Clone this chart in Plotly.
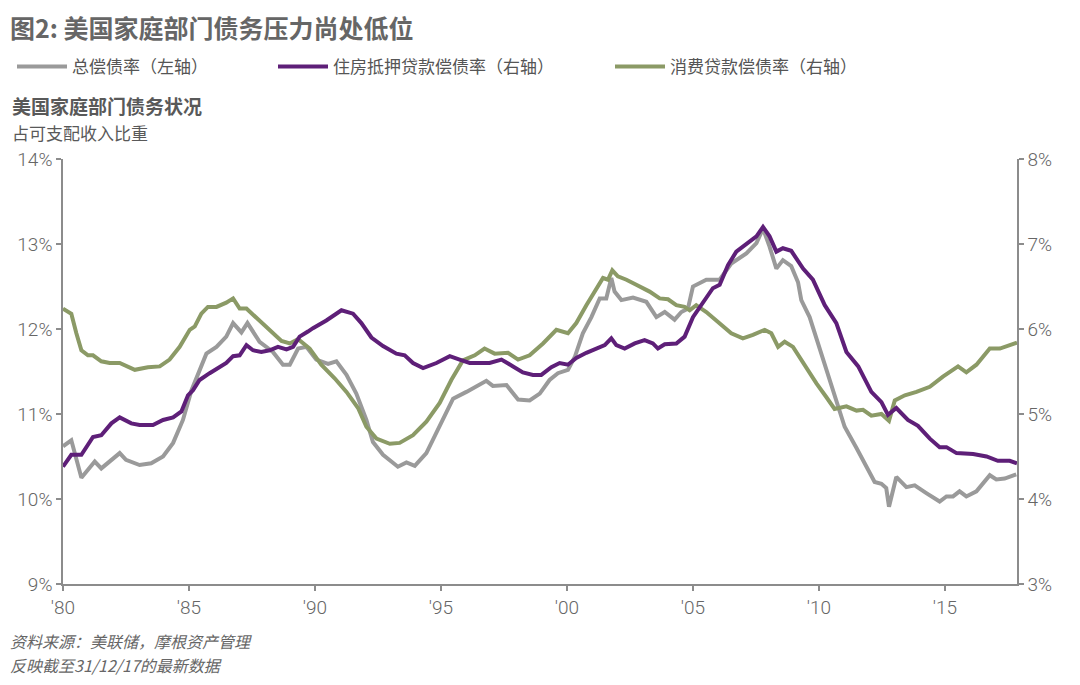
import plotly.graph_objects as go

# ---- data (percent of disposable income) ----
total_year = [1980.0, 1980.33, 1980.73, 1981.26, 1981.52, 1982.25, 1982.5, 1983.04, 1983.5, 1983.97,
              1984.37, 1984.76, 1985.1, 1985.42, 1985.69, 1986.09, 1986.48, 1986.75, 1987.08, 1987.32,
              1987.8, 1988.33, 1988.73, 1989.0, 1989.33, 1989.66, 1990.05, 1990.52, 1990.85, 1991.25,
              1991.64, 1992.04, 1992.3, 1992.7, 1993.29, 1993.63, 1993.96, 1994.42, 1994.95, 1995.48,
              1996.01, 1996.54, 1996.8, 1997.06, 1997.6, 1998.06, 1998.52, 1998.92, 1999.31, 1999.64,
              2000.04, 2000.31, 2000.63, 2000.97, 2001.3, 2001.56, 2001.76, 2001.89, 2002.16, 2002.62,
              2003.15, 2003.55, 2003.88, 2004.27, 2004.54, 2004.8, 2005.0, 2005.53, 2006.06, 2006.52,
              2007.12, 2007.52, 2007.78, 2008.04, 2008.31, 2008.57, 2008.9, 2009.17, 2009.3, 2009.63,
              2010.1, 2010.56, 2011.02, 2011.49, 2011.81, 2012.21, 2012.48, 2012.67, 2012.78, 2013.07,
              2013.47, 2013.8, 2014.26, 2014.79, 2015.06, 2015.32, 2015.58, 2015.85, 2016.25, 2016.78,
              2017.04, 2017.37, 2017.83]
total_dsr = [10.62, 10.69, 10.25, 10.44, 10.36, 10.54, 10.46, 10.40, 10.42, 10.50,
             10.66, 10.93, 11.28, 11.52, 11.71, 11.79, 11.91, 12.07, 11.96, 12.07,
             11.85, 11.73, 11.58, 11.58, 11.77, 11.79, 11.64, 11.59, 11.62, 11.46,
             11.24, 10.93, 10.67, 10.52, 10.38, 10.43, 10.39, 10.54, 10.85, 11.18,
             11.26, 11.34, 11.39, 11.33, 11.34, 11.17, 11.16, 11.24, 11.40, 11.48,
             11.52, 11.67, 11.95, 12.14, 12.36, 12.36, 12.60, 12.44, 12.34, 12.37,
             12.32, 12.14, 12.20, 12.11, 12.20, 12.24, 12.50, 12.58, 12.58, 12.77,
             12.89, 13.01, 13.18, 12.97, 12.71, 12.81, 12.74, 12.55, 12.34, 12.14,
             11.71, 11.28, 10.85, 10.60, 10.42, 10.20, 10.18, 10.13, 9.91, 10.26,
             10.14, 10.16, 10.07, 9.97, 10.03, 10.03, 10.09, 10.03, 10.09, 10.28,
             10.23, 10.24, 10.29]

mortgage_year = [1980.0, 1980.33, 1980.73, 1981.19, 1981.52, 1981.92, 1982.25, 1982.71, 1983.04, 1983.57,
                 1983.97, 1984.37, 1984.7, 1984.96, 1985.16, 1985.42, 1985.82, 1986.22, 1986.48, 1986.75,
                 1987.01, 1987.28, 1987.54, 1987.87, 1988.2, 1988.53, 1988.87, 1989.13, 1989.39, 1989.72,
                 1989.92, 1990.45, 1991.05, 1991.51, 1991.84, 1992.24, 1992.7, 1993.23, 1993.56, 1993.89,
                 1994.29, 1994.82, 1995.35, 1995.74, 1996.14, 1996.93, 1997.4, 1997.86, 1998.25, 1998.65,
                 1998.98, 1999.38, 1999.71, 2000.04, 2000.37, 2000.77, 2001.17, 2001.5, 2001.76, 2001.96,
                 2002.29, 2002.69, 2003.08, 2003.41, 2003.61, 2003.88, 2004.34, 2004.67, 2005.0, 2005.4,
                 2005.79, 2006.06, 2006.39, 2006.72, 2007.18, 2007.52, 2007.78, 2008.04, 2008.31, 2008.57,
                 2008.9, 2009.17, 2009.37, 2009.76, 2010.23, 2010.69, 2011.09, 2011.56, 2012.08, 2012.48,
                 2012.74, 2013.07, 2013.53, 2013.93, 2014.4, 2014.79, 2015.06, 2015.46, 2016.12, 2016.65,
                 2017.1, 2017.57, 2017.86]
mortgage_dsr = [4.38, 4.52, 4.52, 4.73, 4.75, 4.89, 4.96, 4.89, 4.87, 4.87,
                4.93, 4.96, 5.03, 5.22, 5.28, 5.40, 5.48, 5.55, 5.60, 5.68,
                5.69, 5.81, 5.75, 5.73, 5.75, 5.79, 5.76, 5.79, 5.91, 5.97,
                6.01, 6.10, 6.22, 6.18, 6.07, 5.90, 5.80, 5.71, 5.69, 5.60,
                5.54, 5.60, 5.68, 5.64, 5.60, 5.60, 5.64, 5.56, 5.49, 5.46,
                5.46, 5.55, 5.60, 5.58, 5.66, 5.72, 5.77, 5.81, 5.89, 5.81,
                5.77, 5.83, 5.87, 5.83, 5.77, 5.82, 5.83, 5.91, 6.14, 6.32,
                6.48, 6.52, 6.75, 6.91, 7.01, 7.09, 7.20, 7.09, 6.91, 6.95,
                6.92, 6.81, 6.71, 6.58, 6.28, 6.07, 5.73, 5.56, 5.26, 5.14,
                4.99, 5.07, 4.93, 4.86, 4.71, 4.61, 4.61, 4.54, 4.53, 4.50,
                4.45, 4.45, 4.42]

consumer_year = [1980.0, 1980.33, 1980.53, 1980.73, 1980.99, 1981.19, 1981.52, 1981.85, 1982.25, 1982.85,
                 1983.37, 1983.84, 1984.23, 1984.63, 1985.03, 1985.23, 1985.49, 1985.75, 1986.09, 1986.48,
                 1986.75, 1987.01, 1987.28, 1987.67, 1988.2, 1988.67, 1989.0, 1989.33, 1989.79, 1990.25,
                 1990.78, 1991.25, 1991.71, 1992.04, 1992.44, 1992.97, 1993.36, 1993.89, 1994.42, 1994.95,
                 1995.41, 1995.87, 1996.34, 1996.73, 1997.13, 1997.66, 1998.06, 1998.52, 1999.05, 1999.58,
                 2000.04, 2000.37, 2000.77, 2001.17, 2001.43, 2001.63, 2001.8, 2002.02, 2002.36, 2002.75,
                 2003.28, 2003.68, 2004.01, 2004.34, 2004.67, 2004.87, 2005.13, 2005.53, 2006.06, 2006.52,
                 2006.98, 2007.38, 2007.85, 2008.11, 2008.38, 2008.64, 2008.97, 2009.23, 2009.43, 2009.9,
                 2010.29, 2010.62, 2011.09, 2011.49, 2011.75, 2012.08, 2012.48, 2012.78, 2013.01, 2013.41,
                 2013.87, 2014.4, 2014.92, 2015.52, 2015.85, 2016.25, 2016.78, 2017.18, 2017.86]
consumer_dsr = [6.24, 6.18, 5.95, 5.75, 5.69, 5.69, 5.62, 5.60, 5.60, 5.52,
                5.55, 5.56, 5.64, 5.79, 5.99, 6.03, 6.18, 6.26, 6.26, 6.31,
                6.36, 6.24, 6.24, 6.13, 5.99, 5.86, 5.83, 5.88, 5.77, 5.58,
                5.42, 5.26, 5.07, 4.85, 4.71, 4.65, 4.66, 4.75, 4.91, 5.13,
                5.40, 5.63, 5.69, 5.77, 5.71, 5.72, 5.64, 5.69, 5.83, 5.99,
                5.95, 6.07, 6.28, 6.48, 6.60, 6.58, 6.69, 6.62, 6.58, 6.52,
                6.44, 6.36, 6.35, 6.28, 6.26, 6.22, 6.28, 6.20, 6.07, 5.95,
                5.89, 5.93, 5.99, 5.95, 5.79, 5.85, 5.79, 5.67, 5.56, 5.36,
                5.20, 5.06, 5.09, 5.04, 5.05, 4.98, 5.00, 4.92, 5.16, 5.22,
                5.26, 5.32, 5.44, 5.56, 5.49, 5.58, 5.77, 5.77, 5.84]

x_tickvals = [1980, 1985, 1990, 1995, 2000, 2005, 2010, 2015]
x_ticktext = ["'80", "'85", "'90", "'95", "'00", "'05", "'10", "'15"]
left_ticks = [9, 10, 11, 12, 13, 14]
left_ticktext = ["9%", "10%", "11%", "12%", "13%", "14%"]
right_ticks = [3, 4, 5, 6, 7, 8]
right_ticktext = ["3%", "4%", "5%", "6%", "7%", "8%"]

names = ["总偿债率（左轴）", "住房抵押贷款偿债率（右轴）", "消费贷款偿债率（右轴）"]
colors = ["#9a9a9a", "#5e1f78", "#8b9a66"]

FONT = "Roboto, 'Noto Sans CJK SC', sans-serif"
CJK = "'Noto Sans CJK SC', sans-serif"

fig = go.Figure()
fig.add_trace(go.Scatter(x=total_year, y=total_dsr, mode="lines", name=names[0],
                         line=dict(color=colors[0], width=4), yaxis="y", legend="legend"))
fig.add_trace(go.Scatter(x=consumer_year, y=consumer_dsr, mode="lines", name=names[2],
                         line=dict(color=colors[2], width=4), yaxis="y2", legend="legend3"))
fig.add_trace(go.Scatter(x=mortgage_year, y=mortgage_dsr, mode="lines", name=names[1],
                         line=dict(color=colors[1], width=4), yaxis="y2", legend="legend2"))

W, H = 1080, 685
OFF = 8  # page offset of the figure in the browser window
# target plot-area edges in window pixels
X0, X1, Y0, Y1 = 63, 1017, 159, 584
L, R, T, B = X0 - OFF, W - (X1 - OFF), Y0 - OFF, H - (Y1 - OFF)
pw, ph = W - L - R, H - T - B


def px(xpix):
    return (xpix - X0) / pw


def py(ypix):
    return (Y1 - ypix) / ph


leg_common = dict(orientation="h", yanchor="middle", xanchor="left", bgcolor="rgba(0,0,0,0)",
                  font=dict(family=CJK, size=17, color="#555555"), itemwidth=50)

axis_common = dict(showgrid=False, zeroline=False, showline=True, linecolor="#8c8c8c", linewidth=1.5,
                   ticks="outside", ticklen=5, tickcolor="#8c8c8c", tickwidth=1.5, automargin=False,
                   tickfont=dict(family=FONT, size=19, color="#666666", weight=300))

fig.update_layout(
    width=W, height=H,
    margin=dict(l=L, r=R, t=T, b=B, autoexpand=False),
    paper_bgcolor="white", plot_bgcolor="white",
    font=dict(family=FONT, color="#555555"),
    title=dict(text="图2: 美国家庭部门债务压力尚处低位", x=2 / W, xanchor="left",
               y=1 - 21 / H, yanchor="middle",
               font=dict(family=CJK, size=25, color="#666666", weight="bold")),
    xaxis=dict(range=[1980, 2017.86], tickvals=x_tickvals, ticktext=x_ticktext, **axis_common),
    yaxis=dict(range=[9, 14], tickvals=left_ticks, ticktext=left_ticktext, **axis_common),
    yaxis2=dict(range=[3, 8], tickvals=right_ticks, ticktext=right_ticktext, overlaying="y",
                side="right", **axis_common),
    legend=dict(x=px(12), y=py(67), **leg_common),
    legend2=dict(x=px(273), y=py(67), **leg_common),
    legend3=dict(x=px(610), y=py(67), **leg_common),
    showlegend=True,
)

fig.add_annotation(text="<b>美国家庭部门债务状况</b>", xref="paper", yref="paper",
                   x=px(10), y=py(105), xanchor="left", yanchor="middle", showarrow=False,
                   font=dict(family=CJK, size=19, color="#595959"))
fig.add_annotation(text="占可支配收入比重", xref="paper", yref="paper",
                   x=px(10), y=py(133), xanchor="left", yanchor="middle", showarrow=False,
                   font=dict(family=CJK, size=17, color="#595959"))
fig.add_annotation(text="<i>资料来源：美联储，摩根资产管理</i>", xref="paper", yref="paper",
                   x=px(8), y=py(641), xanchor="left", yanchor="middle", showarrow=False,
                   font=dict(family=CJK, size=16, color="#666666"))
fig.add_annotation(text="<i>反映截至31/12/17的最新数据</i>", xref="paper", yref="paper",
                   x=px(8), y=py(665), xanchor="left", yanchor="middle", showarrow=False,
                   font=dict(family=CJK, size=16, color="#666666"))

fig.write_html("out.html")
